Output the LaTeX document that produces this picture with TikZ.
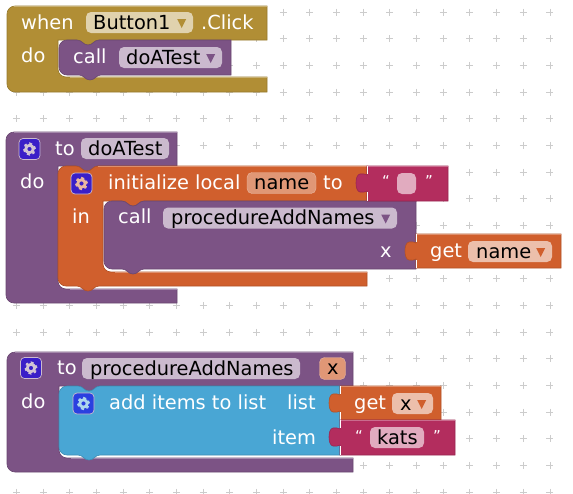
\documentclass[tikz,border=0pt]{standalone}
\usepackage{fontspec}
\setmainfont{DejaVu Sans}
\usetikzlibrary{positioning}
\definecolor{ctlgold}{HTML}{B18E35}
\definecolor{procpurple}{HTML}{7C5385}
\definecolor{varorange}{HTML}{D05F2D}
\definecolor{textpink}{HTML}{B32D5E}
\definecolor{listblue}{HTML}{49A6D4}
\definecolor{gearpurple}{HTML}{3A1FC8}
\definecolor{gearblue}{HTML}{2A40E0}
\newcommand{\dentl}[2]{-- (#1+11,#2) .. controls (#1+6,#2) and (#1+5,#2+5) .. (#1,#2+5) .. controls (#1-5,#2+5) and (#1-6,#2) .. (#1-11,#2)}
\newcommand{\bumpr}[2]{-- (#1-11,#2) .. controls (#1-6,#2) and (#1-5,#2+5) .. (#1,#2+5) .. controls (#1+5,#2+5) and (#1+6,#2) .. (#1+11,#2)}
\newcommand{\valueblock}[5]{
	\filldraw[blk=#1] (#2,#4) -- (#3,#4) -- (#3,#5) -- (#2,#5) -- (#2,#4+25) .. controls (#2-2,#4+26) and (#2-4,#4+26.5) .. (#2-7,#4+26) .. controls (#2-10,#4+25.5) and (#2-11,#4+21) .. (#2-11,#4+17) .. controls (#2-11,#4+13) and (#2-10,#4+8.5) .. (#2-7,#4+8) .. controls (#2-4,#4+7.5) and (#2-2,#4+8) .. (#2,#4+9) -- cycle;
	\draw[hilite=#1] (#2,#4+.5) -- (#3,#4+.5);
	\draw[white, line width=.7] (#2,#4) -- (#2,#4+8) (#2,#4+26) -- (#2,#5);
}
\newcommand{\gearicon}[5]{
	\node[gearbox, fill=#4] (#1) at (#2,#3) {};
	\draw[#5, line width=2.8] (#1.center) circle (3.7pt);
	\draw[#5, line width=2, dash pattern=on 2.9pt off 2.86pt] (#1.center) circle (5.6pt);
}
\newcommand{\fieldbox}[8]{
	\node[fld, fill=#5!#8!white, minimum width={#3-#2}] (#1) at ({(#2+#3)/2},#4) {};
	\node[lbl, text=black] (#1txt) at (#6,#4+6.5) {#7};
}
\newcommand{\ddarrow}[2]{
	\fill[#2] ([xshift=-16,yshift=3.5]#1.east) -- ++(9,0) -- ++(-4.5,9) -- cycle;
}
\begin{document}
\begin{tikzpicture}[
			x=1pt, y=-1pt,
			font=\fontsize{19.4}{22}\selectfont,
			blk/.style={fill=#1, draw=#1!85!black, line width=.6},
			hilite/.style={draw=#1!70!white, line width=.8},
			lbl/.style={text=white, inner sep=0pt, anchor=base west},
			fld/.style={rounded corners=5pt, minimum height=21, inner sep=0pt},
			gearbox/.style={draw=white!60!procpurple, rounded corners=4pt, minimum width=21, minimum height=21, inner sep=0pt, line width=.7},
			grid plus/.style={draw=black!20, line width=.8}
			]
			\useasboundingbox (0,0) rectangle (573,493);
			\foreach \i in {0,...,20} {
				\foreach \j in {0,...,18} {
					\draw[grid plus] ({16.5+\i*26.67-3.5},{12+\j*26.67}) -- ++(7,0) ({16.5+\i*26.67},{12+\j*26.67-3.5}) -- ++(0,7);
				}
			}
			\filldraw[blk=ctlgold] (267,40) -- (267,6) [rounded corners=8] -- (7,6) -- (7,92) [sharp corners] -- (267,92) -- (267,77) [rounded corners=8] -- (58,77) [sharp corners] -- (58,40) \bumpr{88}{40} -- cycle;
			\draw[hilite=ctlgold] (14,6.5) -- (267,6.5) (70,77.5) -- (267,77.5);
			\filldraw[blk=procpurple] (231,40) \dentl{88}{40} [rounded corners=8] -- (59,40) -- (59,75) [sharp corners] \bumpr{90}{75} -- (231,75) -- cycle;
			\node[lbl] (when) at (21,29) {when};
			\fieldbox{button}{86}{193}{22.5}{ctlgold}{93}{Button1}{40}
			\ddarrow{button}{ctlgold}
			\node[lbl] (click) at (201,29) {.Click};
			\node[lbl] (dogold) at (21,62) {do};
			\node[lbl] (callone) at (73,63) {call};
			\fieldbox{calltest}{119}{222}{57.5}{procpurple}{126}{doATest}{40}
			\ddarrow{calltest}{procpurple}

			\filldraw[blk=procpurple] (177,166) -- (177,132) [rounded corners=8] -- (6,132) -- (6,303) [sharp corners] -- (177,303) -- (177,289) [rounded corners=8] -- (58,289) [sharp corners] -- (58,166) \bumpr{87}{166} -- cycle;
			\draw[hilite=procpurple] (14,132.5) -- (177,132.5) (70,289.5) -- (177,289.5);
			\filldraw[blk=varorange] (367,201) -- (367,166) \dentl{87}{166} [rounded corners=8] -- (58,166) -- (58,286) [sharp corners] \bumpr{88}{286} -- (367,286) -- (367,272) [rounded corners=8] -- (103,272) [sharp corners] -- (103,201) \bumpr{133}{201} -- cycle;
			\draw[hilite=varorange] (98,166.5) -- (367,166.5) (115,272.5) -- (367,272.5);
			\filldraw[blk=procpurple] (416,201) \dentl{133}{201} [rounded corners=8] -- (104,201) -- (104,269) [sharp corners] \bumpr{133}{269} -- (416,269) -- cycle;
			\gearicon{geardo}{29.5}{149}{gearpurple}{white!65!procpurple}
			\node[lbl] (todo) at (55,155) {to};
			\fieldbox{procdo}{81}{169}{148.5}{procpurple}{88}{doATest}{40}
			\node[lbl] (dopurple) at (20,188) {do};
			\gearicon{gearinit}{81.5}{183.5}{gearpurple}{white!55!varorange}
			\node[lbl] (initlocal) at (108,189) {initialize local};
			\node[fld, fill=white!35!varorange, draw=white!55!varorange, minimum width=69] (namebox) at (281.5,183) {};
			\node[lbl, text=black] (nametxt) at (254,189) {name};
			\node[lbl] (toinit) at (323,189) {to};
			\node[lbl] (inlbl) at (72,223) {in};
			\node[lbl] (calltwo) at (118,223) {call};
			\fieldbox{calladd}{163}{397}{218}{procpurple}{171}{procedureAddNames}{40}
			\ddarrow{calladd}{procpurple}
			\node[lbl] (xarg) at (380,257) {x};
			\valueblock{textpink}{367}{448}{166}{201}
			\node[lbl, font=\fontsize{15}{18}\selectfont] (quoteone) at (382,186) {“};
			\node[fld, fill=white!60!textpink, minimum width=19] (emptybox) at (406.5,183.5) {};
			\node[lbl, font=\fontsize{15}{18}\selectfont] (quotetwo) at (425,186) {”};
			\valueblock{varorange}{416}{561}{234}{268}
			\node[lbl] (getname) at (430,257) {get};
			\fieldbox{namefield}{468}{552}{251.5}{varorange}{476}{name}{40}
			\ddarrow{namefield}{varorange}

			\filldraw[blk=procpurple] (353,386) -- (353,352) [rounded corners=8] -- (7,352) -- (7,472) [sharp corners] -- (353,472) -- (353,458) [rounded corners=8] -- (59,458) [sharp corners] -- (59,386) \bumpr{89}{386} -- cycle;
			\draw[hilite=procpurple] (15,352.5) -- (353,352.5) (71,458.5) -- (353,458.5);
			\filldraw[blk=listblue] (340,386) \dentl{89}{386} [rounded corners=8] -- (59,386) -- (59,455) [sharp corners] \bumpr{89}{455} -- (340,455) -- cycle;
			\gearicon{gearproc}{31}{368}{gearpurple}{white!65!procpurple}
			\node[lbl] (toproc) at (57,374) {to};
			\fieldbox{procadd}{82}{300}{368.5}{procpurple}{90}{procedureAddNames}{40}
			\node[fld, fill=white!35!varorange, draw=white!55!varorange, minimum width=26, minimum height=22] (xbox) at (332.5,368.5) {};
			\node[lbl, text=black] (xtxt) at (327,374) {x};
			\node[lbl] (doproc) at (21,408) {do};
			\gearicon{gearadd}{83.5}{403.5}{gearblue}{white!55!listblue}
			\node[lbl] (additems) at (109,409) {add items to list};
			\node[lbl] (listlbl) at (287,409) {list};
			\node[lbl] (itemlbl) at (272,444) {item};
			\valueblock{varorange}{340}{441}{386}{420}
			\node[lbl] (getx) at (354,409) {get};
			\fieldbox{xfield}{392}{433}{403.5}{varorange}{400}{x}{40}
			\ddarrow{xfield}{varorange}
			\valueblock{textpink}{340}{455}{420}{455}
			\node[lbl, font=\fontsize{15}{18}\selectfont] (quotethree) at (355,441) {“};
			\fieldbox{katsbox}{370}{424}{437.5}{textpink}{377}{kats}{40}
			\node[lbl, font=\fontsize{15}{18}\selectfont] (quotefour) at (433,441) {”};
		\end{tikzpicture}
\end{document}
